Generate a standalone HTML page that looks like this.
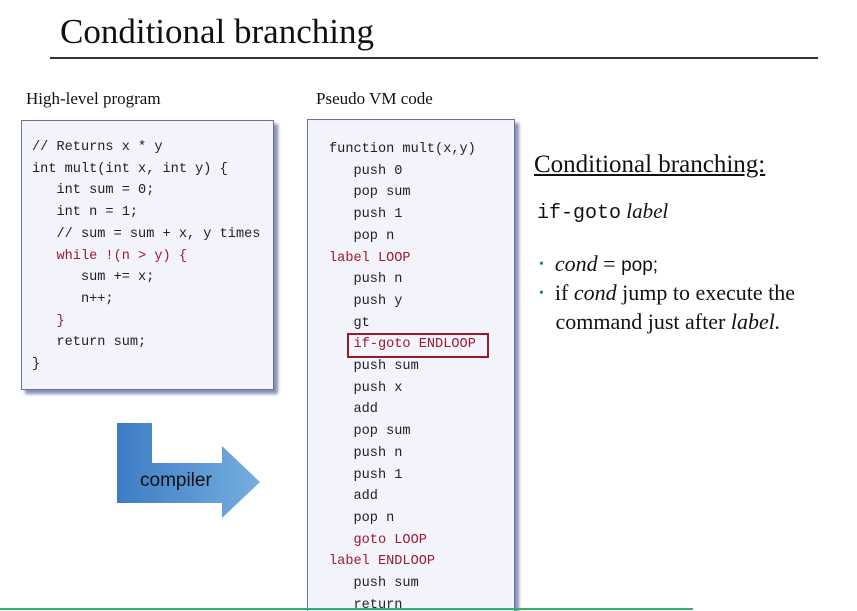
<!DOCTYPE html>
<html style="overflow:hidden;height:611px;"><head><meta charset="utf-8"><style>
body{margin:0;width:857px;height:611px;overflow:hidden;background:#fff;position:relative;font-family:"Liberation Serif",serif;}
.a{position:absolute;white-space:pre;}
.box{position:absolute;background:#f3f3fc;border:1.5px solid #6a70a8;box-shadow:4px 4px 3px #8a8fb0;}
.m{font-family:"Liberation Mono",monospace;font-size:13.6px;color:#222;line-height:21.7px;}
.r{color:#a0182c;}
</style></head><body>
<div class="a" style="left:60px;top:12px;font-size:35px;color:#111;">Conditional branching</div>
<div class="a" style="left:50px;top:57px;width:768px;height:2px;background:#333;"></div>
<div class="a" style="left:26px;top:89px;font-size:17px;color:#111;">High-level program</div>
<div class="a" style="left:316px;top:89px;font-size:17px;color:#111;">Pseudo VM code</div>

<div class="box" style="left:21px;top:120px;width:251px;height:268px;"></div>
<div class="a m" style="left:32px;top:137px;">// Returns x * y
int mult(int x, int y) {
   int sum = 0;
   int n = 1;
   // sum = sum + x, y times
   <span class="r">while !(n &gt; y) {</span>
      sum += x;
      n++;
   <span class="r">}</span>
   return sum;
}</div>

<div class="box" style="left:307px;top:119px;width:206px;height:520px;"></div>
<div class="a" style="left:347px;top:333px;width:138px;height:21px;border:2px solid #9a1a2a;"></div>
<div class="a m" style="left:329px;top:139px;">function mult(x,y)
   push 0
   pop sum
   push 1
   pop n
<span class="r">label LOOP</span>
   push n
   push y
   gt
   <span class="r">if-goto ENDLOOP</span>
   push sum
   push x
   add
   pop sum
   push n
   push 1
   add
   pop n
   <span class="r">goto LOOP</span>
<span class="r">label ENDLOOP</span>
   push sum
   return</div>

<svg class="a" style="left:0;top:0" width="857" height="611">
<defs><linearGradient id="g" x1="0" x2="1"><stop offset="0" stop-color="#3d7cc4"/><stop offset="1" stop-color="#76aee0"/></linearGradient></defs>
<polygon points="117,423 152,423 152,463 222,463 222,446 260,482 222,518 222,503 117,503" fill="url(#g)"/>
<text x="140" y="486" font-family="Liberation Sans, sans-serif" font-size="19" fill="#111">compiler</text>
</svg>

<div class="a" style="left:534px;top:151px;font-size:25px;color:#111;text-decoration:underline;">Conditional branching:</div>
<div class="a" style="left:537px;top:199px;font-size:21px;color:#111;"><span style="font-family:'Liberation Mono',monospace;font-size:20px;">if-goto</span> <i>label</i></div>
<div class="a" style="left:539px;top:251px;font-size:22px;color:#111;"><span style="color:#3a8a3a;font-size:14px;vertical-align:3px;">•</span>  <i>cond</i> = <span style="font-family:'Liberation Sans',sans-serif;font-size:19px;">pop;</span></div>
<div class="a" style="left:539px;top:279px;font-size:22px;color:#111;line-height:28px;"><span style="color:#3a8a3a;font-size:14px;vertical-align:3px;">•</span>  if <i>cond</i> jump to execute the
   command just after <i>label.</i></div>

<div class="a" style="left:0;top:608px;width:693px;height:2px;background:#2fb36a;"></div>
</body></html>
